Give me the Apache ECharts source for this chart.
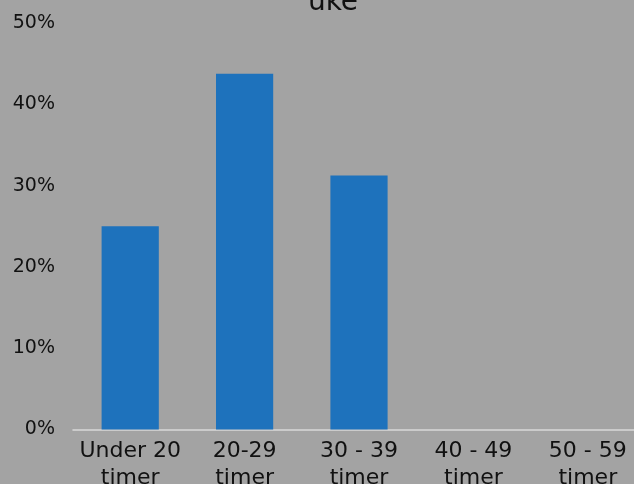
<!DOCTYPE html>
<html>
<head>
<meta charset="utf-8">
<script src="https://cdn.jsdelivr.net/npm/echarts@6/dist/echarts.min.js"></script>
<style>
html,body{margin:0;padding:0;background:#a3a3a3;}
#c{width:634px;height:484px;}
</style>
</head>
<body>
<div id="c"></div>
<script>
const title = 'uke';
const categories = ['Under 20\ntimer', '20-29\ntimer', '30 - 39\ntimer', '40 - 49\ntimer', '50 - 59\ntimer'];
const values = [25, 43.75, 31.25, 0, 0];
const yTicks = [0, 10, 20, 30, 40, 50];

const FONT = 'DejaVu Sans';
const chart = echarts.init(document.getElementById('c'), null, {renderer: 'canvas'});
chart.setOption({
  backgroundColor: '#a3a3a3',
  animation: false,
  title: {
    text: title,
    left: 328,
    textAlign: 'center',
    top: -16,
    textStyle: {fontFamily: FONT, fontSize: 28, fontWeight: 'normal', color: '#111'}
  },
  grid: {left: 73, top: 23, width: 572, bottom: 54.5, containLabel: false, outerBoundsMode: 'none'},
  xAxis: {
    type: 'category',
    data: categories,
    axisTick: {show: false},
    axisLine: {lineStyle: {color: '#d9d9d9', width: 1.5}},
    axisLabel: {
      interval: 0,
      margin: 8,
      fontFamily: FONT,
      fontSize: 22,
      lineHeight: 27,
      color: '#111'
    }
  },
  yAxis: {
    type: 'value',
    min: yTicks[0],
    max: yTicks[yTicks.length - 1],
    interval: 10,
    splitLine: {show: false},
    axisLine: {show: false},
    axisTick: {show: false},
    axisLabel: {
      margin: 18,
      fontFamily: FONT,
      fontSize: 19,
      color: '#111',
      formatter: v => v + '%'
    }
  },
  series: [{
    type: 'bar',
    data: values,
    barWidth: '50%',
    itemStyle: {color: '#1e72bc'}
  }]
});
</script>
</body>
</html>
